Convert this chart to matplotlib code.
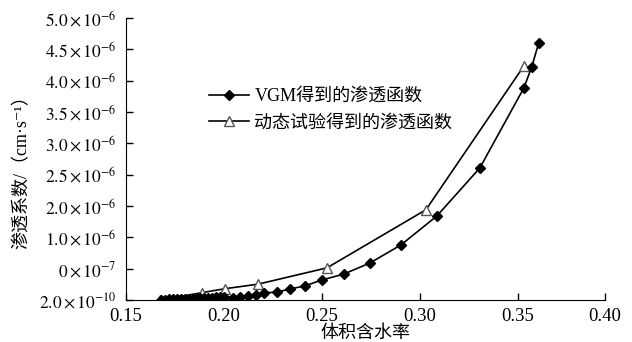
import numpy as np
import matplotlib
matplotlib.use('Agg')
import matplotlib.pyplot as plt

plt.rcParams['font.family'] = ['Liberation Serif', 'Noto Sans CJK SC', 'DejaVu Sans']
plt.rcParams['mathtext.fontset'] = 'stix'

# VGM permeability function (values in 1e-6 cm/s)
vgm_theta = [0.168, 0.170, 0.172, 0.174, 0.176, 0.178, 0.180, 0.182, 0.184, 0.186,
             0.188, 0.190, 0.192, 0.194, 0.196, 0.198, 0.200, 0.2046, 0.208, 0.2122,
             0.2163, 0.2205, 0.227, 0.2337, 0.2413, 0.250, 0.2612, 0.2745, 0.2903,
             0.3087, 0.3306, 0.3531, 0.3571, 0.3607]
vgm_k = [0.005, 0.008, 0.010, 0.012, 0.015, 0.018, 0.020, 0.023, 0.026, 0.030,
         0.033, 0.036, 0.039, 0.042, 0.045, 0.048, 0.050, 0.044, 0.053, 0.07,
         0.09, 0.125, 0.14, 0.195, 0.25, 0.355, 0.46, 0.656, 0.975,
         1.49, 2.34, 3.76, 4.13, 4.56]

# dynamic test permeability function
dyn_theta = [0.1673, 0.1888, 0.2005, 0.2173, 0.2526, 0.3031, 0.3531]
dyn_k = [0.0, 0.13, 0.20, 0.28, 0.57, 1.60, 4.15]

ytick_labels = [r'$2.0\times10^{-10}$', r'$0\times10^{-7}$', r'$1.0\times10^{-6}$',
                r'$2.0\times10^{-6}$', r'$2.5\times10^{-6}$', r'$3.0\times10^{-6}$',
                r'$3.5\times10^{-6}$', r'$4.0\times10^{-6}$', r'$4.5\times10^{-6}$',
                r'$5.0\times10^{-6}$']
xtick_labels = ['0.15', '0.20', '0.25', '0.30', '0.35', '0.40']

fig = plt.figure(figsize=(6.32, 3.42), dpi=100)
ax = fig.add_axes([0.1994, 0.1228, 0.7578, 0.8245])

ax.plot(vgm_theta, vgm_k, color='black', lw=1.2, marker='D', ms=5.5,
        mfc='black', mec='black', label='VGM得到的渗透函数', zorder=3)
ax.plot(dyn_theta, dyn_k, color='black', lw=1.2, marker='^', ms=7,
        mfc='white', mec='#555555', label='动态试验得到的渗透函数', zorder=2)

ax.set_xlim(0.15, 0.3945)
ax.set_ylim(0, 5)
ax.set_xticks([0.15, 0.20, 0.25, 0.30, 0.35, 0.3945])
ax.set_xticklabels(xtick_labels)
ax.set_yticks(np.linspace(0, 5, 10))
ax.set_yticklabels(ytick_labels)
ax.tick_params(direction='in', length=5, width=1)
ax.tick_params(axis='x', pad=6, labelsize=13.5)
ax.tick_params(axis='y', pad=7, labelsize=12.5)

ax.spines['top'].set_visible(False)
ax.spines['right'].set_visible(False)

ax.set_xlabel('体积含水率', fontsize=13, labelpad=0)
ax.set_ylabel('渗透系数/（cm·s⁻¹）', fontsize=13)
ax.yaxis.set_label_coords(-0.2, 0.47)

leg = ax.legend(loc='upper left', bbox_to_anchor=(0.14, 0.81), frameon=False,
                fontsize=13, handlelength=2.2, handletextpad=0.3, labelspacing=0.55)

fig.savefig('out.png', dpi=100)
